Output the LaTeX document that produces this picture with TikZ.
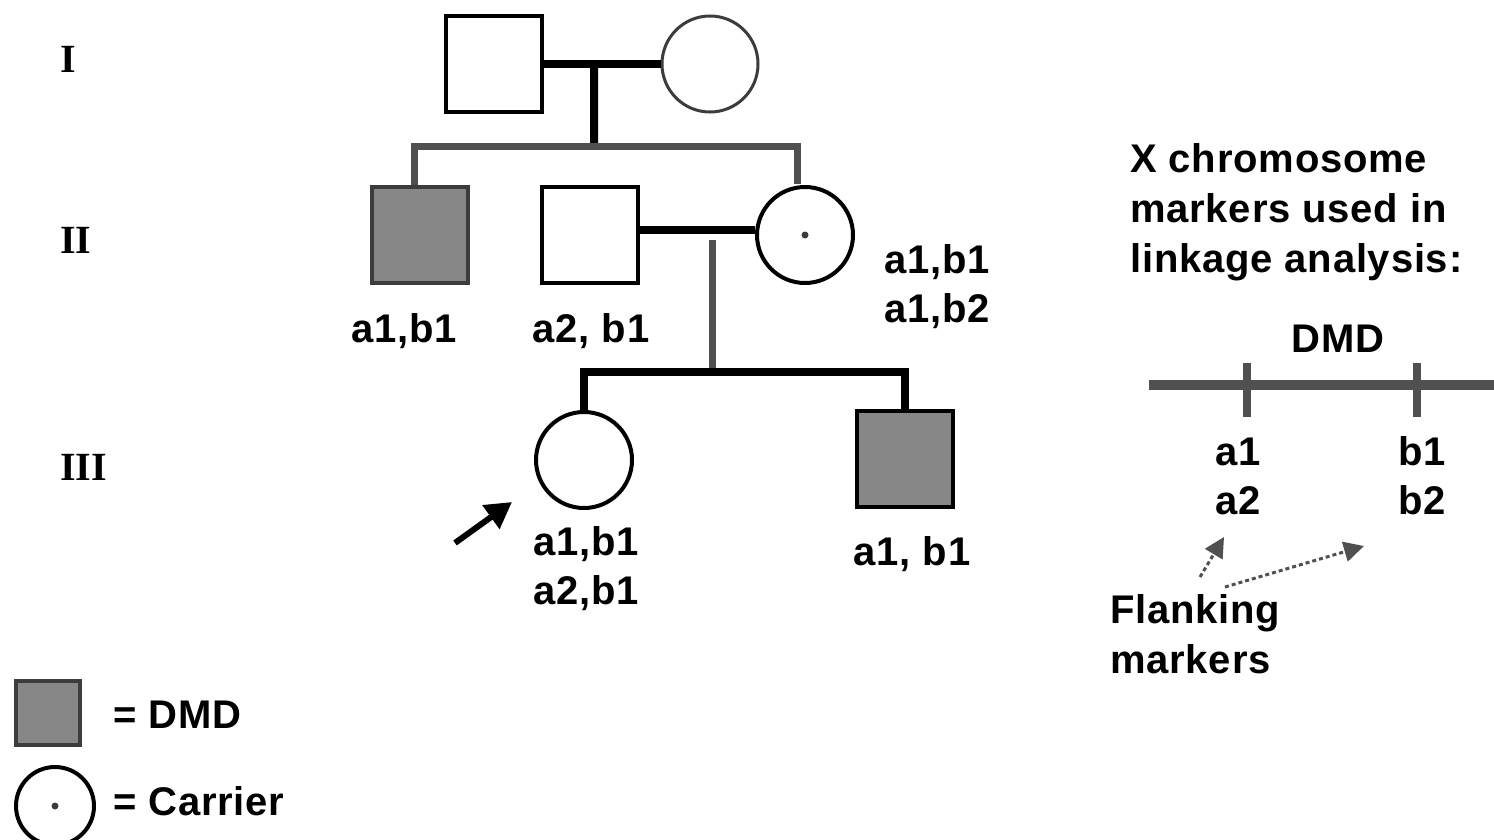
\documentclass[tikz,border=0pt]{standalone}
\usepackage{fontspec}
\setmainfont{Liberation Sans}[LetterSpace=2]
\newfontfamily\romfont{Liberation Serif}
\usetikzlibrary{arrows.meta,calc}
\definecolor{affgray}{HTML}{878787}
\definecolor{edgegray}{HTML}{3C3C3C}
\definecolor{linegray}{HTML}{4F504F}
\tikzset{
  person/.style={draw=black, line width=4pt, fill=white, inner sep=0pt, minimum size=96pt},
  male/.style={person, rectangle},
  female/.style={person, circle},
  affected/.style={fill=affgray, draw=edgegray},
  mline/.style={line width=8pt, black},
  gline/.style={line width=7pt, linegray, line join=miter},
  bline/.style={line width=8pt, black, line join=miter},
  lbl/.style={inner sep=0pt, anchor=base, font=\bfseries\fontsize{40}{49}\selectfont, align=center},
  lbll/.style={inner sep=0pt, anchor=base west, font=\bfseries\fontsize{40}{50}\selectfont, align=left},
  gen/.style={inner sep=0pt, anchor=base west, font=\romfont\bfseries\fontsize{40}{40}\selectfont},
  dotarrow/.style={linegray, line width=3pt, dash pattern=on 4pt off 3pt, -{Triangle[length=20pt,width=20pt]}},
  carrierdot/.style={circle, fill=edgegray, inner sep=0pt, minimum size=7pt},
}
\begin{document}
\begin{tikzpicture}[x=1pt,y=-1pt]
\useasboundingbox (0,0) rectangle (1494,840);
% generation labels
\node[gen] (gI) at (60,73) {I};
\node[gen] (gII) at (60,253) {II};
\node[gen] (gIII) at (60,480) {III};
% generation I
\node[male] (I1) at (494,64) {};
\node[female, draw=edgegray, line width=3pt] (I2) at (710,64) {};
\draw[mline] (I1.east) -- (I2.west);
\coordinate (m1) at ($(I1.east)!0.43!(I2.west)$);
\coordinate (s1) at (594,147);
% generation II
\node[male, affected] (II1) at (420,235) {};
\node[male] (II2) at (590,235) {};
\node[female] (II3) at (805,235) {};
\node[carrierdot] (II3d) at (II3.center) {};
\draw[bline] (m1) -- (s1);
\draw[gline] ([xshift=-6pt]II1.north) |- (s1) -| ([xshift=-8pt,yshift=1pt]II3.north);
\draw[mline] ([yshift=5pt]II2.east) -- ([yshift=5pt]II3.west);
\coordinate (m2) at (712,240);
\coordinate (s2) at (712,372);
\draw[gline] (m2) -- (s2);
% generation III
\node[female] (III1) at (584,460) {};
\node[male, affected, draw=black] (III2) at (905,459) {};
\draw[bline] (III1.north) |- (s2) -| (III2.north);
% proband arrow
\coordinate (pa) at (455,543);
\coordinate (pb) at (512,502);
\draw[line width=6pt, -{Triangle[length=26pt,width=28pt]}] (pa) -- (pb);
% genotype labels (base anchor = last line's baseline)
\node[lbl] (L1) at (404,342) {a1,b1};
\node[lbl] (L2) at (591,342) {a2, b1};
\node[lbl] (L3) at (937,322) {a1,b1\\a1,b2};
\node[lbl] (L4) at (586,604) {a1,b1\\a2,b1};
\node[lbl] (L5) at (912,565) {a1, b1};
% chromosome panel
\node[lbll] (title) at (1130,272) {X chromosome\\markers used in\\linkage analysis:};
\node[lbl] (dmd) at (1338,352) {DMD};
\coordinate (chl) at (1149,385);
\coordinate (chr) at (1494,385);
\draw[line width=10pt, linegray] (chl) -- (chr);
\coordinate (ta1) at (1247,363);
\coordinate (ta2) at (1247,417);
\coordinate (tb1) at (1417,363);
\coordinate (tb2) at (1417,417);
\draw[line width=8pt, linegray] (ta1) -- (ta2);
\draw[line width=8pt, linegray] (tb1) -- (tb2);
\node[lbl] (ma) at (1238,514) {a1\\a2};
\node[lbl] (mb) at (1422,514) {b1\\b2};
\node[lbll] (flank) at (1110,673) {Flanking\\markers};
\coordinate (fa) at (1200,577);
\coordinate (fah) at (1224,537);
\coordinate (fb) at (1225,587);
\coordinate (fbh) at (1364,546);
\draw[dotarrow] (fa) -- (fah);
\draw[dotarrow] (fb) -- (fbh);
% legend
\node[male, affected, minimum size=64pt] (legA) at (48,713) {};
\node[lbll] (legAt) at (113,728) {= DMD};
\node[female, minimum size=78pt] (legC) at (55,806) {};
\node[carrierdot] (legCd) at (legC.center) {};
\node[lbll] (legCt) at (113,815) {= Carrier};
\end{tikzpicture}
\end{document}
